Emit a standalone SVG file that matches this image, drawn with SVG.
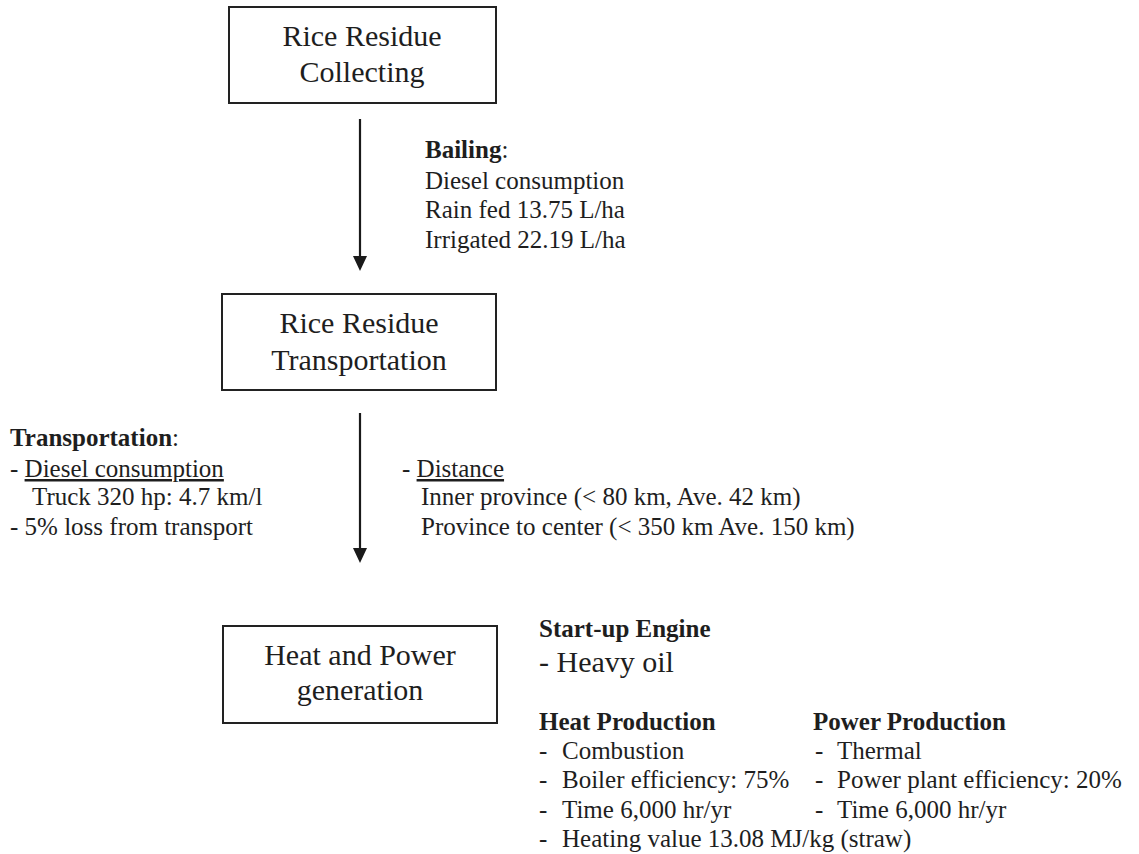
<svg xmlns="http://www.w3.org/2000/svg" width="1139" height="854" viewBox="0 0 1139 854">
<defs>
<marker id="ah" viewBox="0 0 15 14" refX="0" refY="7" markerWidth="15" markerHeight="14" markerUnits="userSpaceOnUse" orient="auto">
<path d="M0,0 L15,7 L0,14 Z" fill="#1a1a1a"/>
</marker>
<style>
text{font-family:"Liberation Serif","Times New Roman",serif;fill:#1e1e1e}
.box{fill:#fff;stroke:#222;stroke-width:2}
.bt{font-size:30px;text-anchor:middle}
.lb{font-size:25px}
.b{font-weight:bold}
.conn{stroke:#1a1a1a;stroke-width:2.2;fill:none}
</style>
</defs>
<rect width="1139" height="854" fill="#fff"/>
<g id="connectors">
<line class="conn" x1="360" y1="119" x2="360" y2="256" marker-end="url(#ah)"/>
<line class="conn" x1="360" y1="413" x2="360" y2="548" marker-end="url(#ah)"/>
</g>
<g id="node-collecting">
<rect class="box" x="229" y="7" width="267" height="96"/>
<text class="bt" x="362" y="46">Rice Residue</text>
<text class="bt" x="362" y="82">Collecting</text>
</g>
<g id="node-transportation">
<rect class="box" x="222" y="294" width="274" height="96"/>
<text class="bt" x="359" y="333">Rice Residue</text>
<text class="bt" x="359" y="370">Transportation</text>
</g>
<g id="node-generation">
<rect class="box" x="223" y="626" width="274" height="97"/>
<text class="bt" x="360" y="665">Heat and Power</text>
<text class="bt" x="360" y="700">generation</text>
</g>
<g id="label-bailing" class="lb">
<text x="425" y="158"><tspan class="b">Bailing</tspan>:</text>
<text x="425" y="189">Diesel consumption</text>
<text x="425" y="218">Rain fed 13.75 L/ha</text>
<text x="425" y="248">Irrigated 22.19 L/ha</text>
</g>
<g id="label-transport" class="lb">
<text x="10" y="446"><tspan class="b">Transportation</tspan>:</text>
<text x="10" y="477">- <tspan text-decoration="underline">Diesel consumption</tspan></text>
<text x="32" y="505">Truck 320 hp: 4.7 km/l</text>
<text x="10" y="535">- 5% loss from transport</text>
</g>
<g id="label-distance" class="lb">
<text x="402" y="477">- <tspan text-decoration="underline">Distance</tspan></text>
<text x="421" y="505">Inner province (&lt; 80 km, Ave. 42 km)</text>
<text x="421" y="535">Province to center (&lt; 350 km Ave. 150 km)</text>
</g>
<g id="label-generation" class="lb">
<text class="b" x="539" y="637">Start-up Engine</text>
<text x="539" y="672" style="font-size:30px">- Heavy oil</text>
<text class="b" x="539" y="730">Heat Production</text>
<text x="539" y="759">-<tspan x="562">Combustion</tspan></text>
<text x="539" y="788">-<tspan x="562">Boiler efficiency: 75%</tspan></text>
<text x="539" y="818">-<tspan x="562">Time 6,000 hr/yr</tspan></text>
<text x="539" y="847">-<tspan x="562">Heating value 13.08 MJ/kg (straw)</tspan></text>
<text class="b" x="813" y="730">Power Production</text>
<text x="815" y="759">-<tspan x="837">Thermal</tspan></text>
<text x="815" y="788">-<tspan x="837">Power plant efficiency: 20%</tspan></text>
<text x="815" y="818">-<tspan x="837">Time 6,000 hr/yr</tspan></text>
</g>
</svg>
